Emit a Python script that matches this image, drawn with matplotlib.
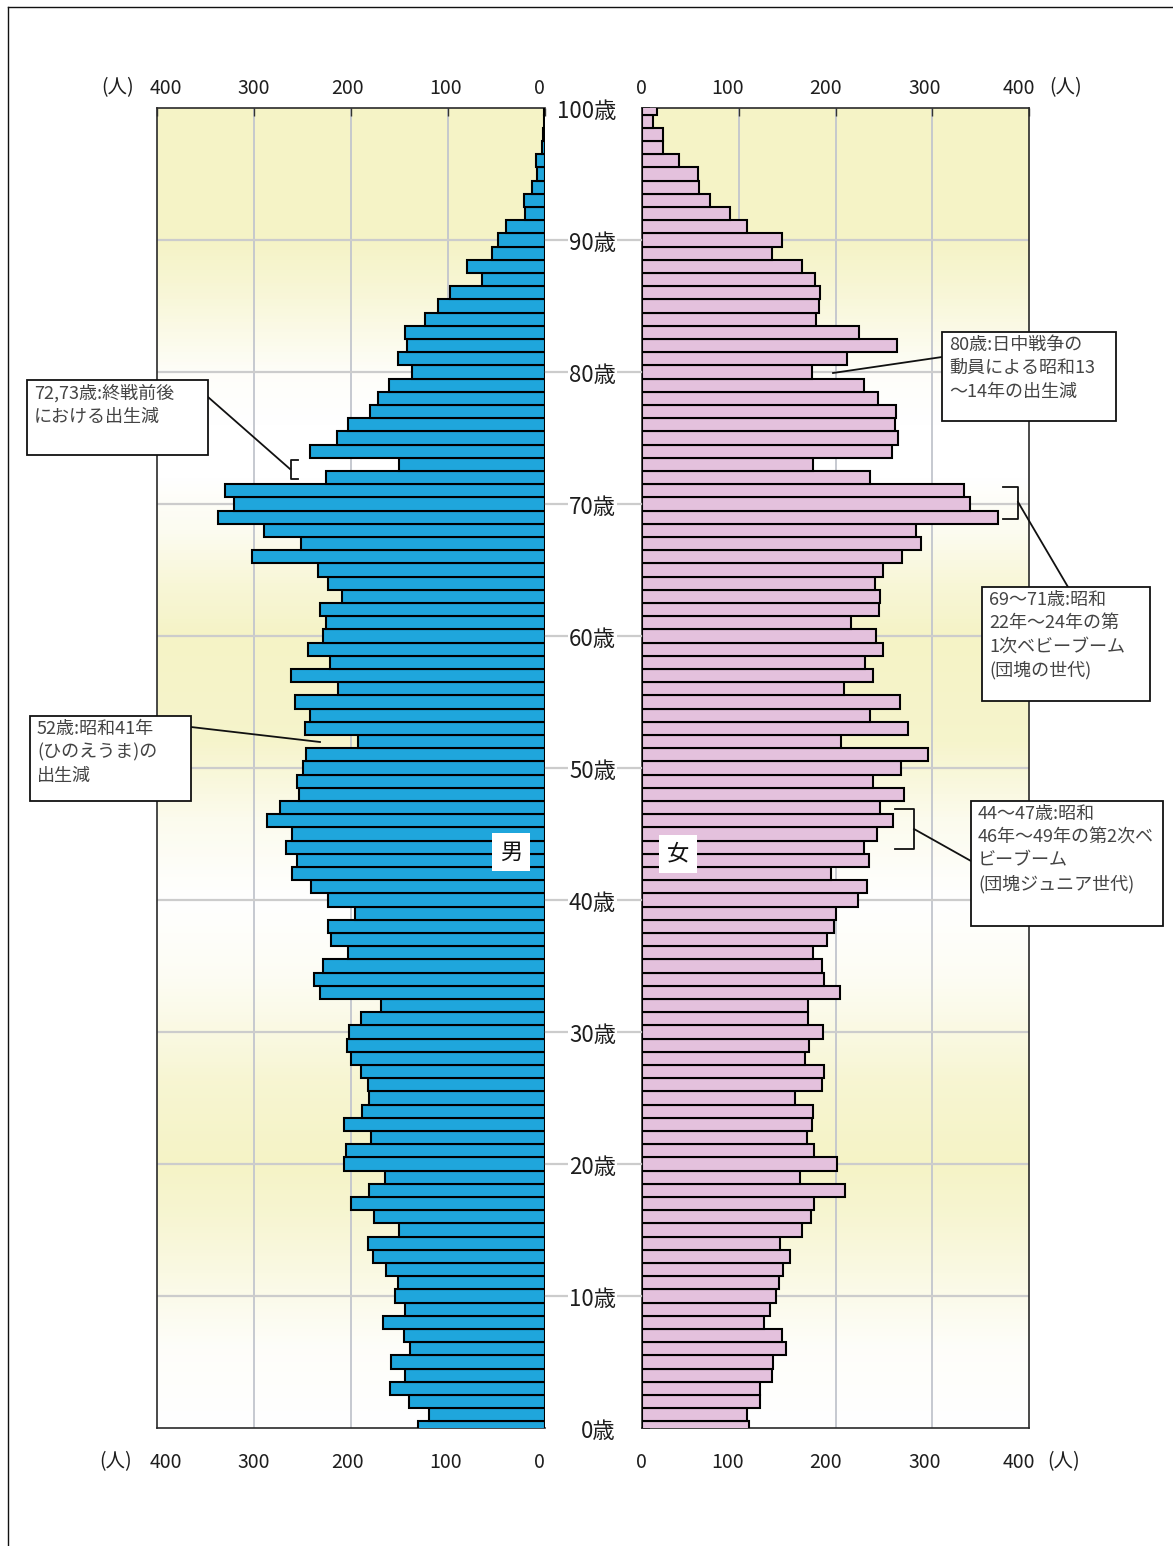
import numpy as np
import matplotlib
matplotlib.use('Agg')
import matplotlib.pyplot as plt
import matplotlib.transforms as mtransforms
from matplotlib.patches import Rectangle
from matplotlib.lines import Line2D
from matplotlib.colors import to_rgb

plt.rcParams['font.family'] = ['Noto Sans CJK JP', 'DejaVu Sans']

# ---------------- data ----------------
ages = list(range(0, 101))
male = [131, 120, 140, 160, 144, 159, 139, 145, 167, 144,
        155, 152, 164, 177, 182, 151, 176, 200, 181, 165,
        207, 205, 179, 207, 189, 181, 182, 190, 200, 204,
        202, 190, 169, 232, 238, 229, 203, 221, 224, 196,
        224, 241, 261, 256, 267, 261, 287, 273, 254, 256,
        249, 246, 193, 247, 242, 258, 213, 262, 222, 244,
        229, 226, 232, 209, 224, 234, 302, 252, 290, 337,
        321, 330, 226, 151, 242, 214, 203, 180, 172, 161,
        137, 152, 142, 144, 124, 110, 98, 65, 80, 55,
        48, 40, 21, 22, 13, 8, 9, 3, 2, 1,
        1]
female = [111, 109, 122, 122, 134, 135, 149, 145, 126, 132,
          138, 142, 146, 153, 143, 165, 175, 178, 210, 163,
          202, 178, 171, 176, 177, 158, 186, 188, 168, 173,
          187, 172, 172, 205, 188, 186, 177, 191, 198, 201,
          223, 233, 195, 235, 229, 243, 259, 246, 271, 239,
          268, 296, 206, 275, 236, 267, 209, 239, 231, 249,
          242, 216, 245, 246, 241, 249, 269, 288, 283, 368,
          339, 333, 236, 177, 258, 265, 262, 263, 244, 229,
          176, 212, 264, 224, 180, 183, 184, 179, 165, 134,
          145, 109, 91, 70, 59, 58, 38, 22, 22, 11,
          15]
x_ticks = [0, 100, 200, 300, 400]
age_ticks = list(range(0, 101, 10))
age_labels = [f"{a}歳" for a in age_ticks]
unit_label = "(人)"
male_label = "男"
female_label = "女"

notes = [
    "72,73歳:終戦前後\nにおける出生減",
    "52歳:昭和41年\n(ひのえうま)の\n出生減",
    "80歳:日中戦争の\n動員による昭和13\n～14年の出生減",
    "69～71歳:昭和\n22年～24年の第\n1次ベビーブーム\n(団塊の世代)",
    "44～47歳:昭和\n46年～49年の第2次ベ\nビーブーム\n(団塊ジュニア世代)",
]

# ---------------- layout helpers ----------------
W, H = 1173, 1546
fig = plt.figure(figsize=(W / 100, H / 100), dpi=100)


def fx(px):
    return px / W


def fy(py):
    return 1 - py / H


def px_offset(dx, dy):
    return mtransforms.ScaledTranslation(dx / 100, -dy / 100, fig.dpi_scale_trans)


AX_TOP, AX_BOT = 108, 1428
ax_l = fig.add_axes([fx(157), fy(AX_BOT), fx(545 - 157), (AX_BOT - AX_TOP) / H])
ax_r = fig.add_axes([fx(642), fy(AX_BOT), fx(1029 - 642), (AX_BOT - AX_TOP) / H])

MALE_C = '#1fa6dc'
FEMALE_C = '#e4c1dd'
YELLOW = np.array(to_rgb('#f5f3c6'))
WHITE = np.array([1.0, 1.0, 1.0])
TXT_C = '#1e1e1e'

# background gradient (style only)
gy = np.linspace(100, 0, 400)
cp_age = [0, 6, 16, 20, 26, 34, 40, 46, 52, 60, 64, 68, 70, 72, 76, 80, 86, 90, 100]
cp_val = [0.0, 0.1, 0.8, 1.0, 0.8, 0.2, 0.0, 0.3, 0.9, 1.0, 0.7, 0.25, 0.15, 0.0, 0.0, 0.1, 0.7, 1.0, 1.0]
inten = np.interp(gy, cp_age, cp_val)
grad = WHITE[None, :] * (1 - inten[:, None]) + YELLOW[None, :] * inten[:, None]
grad = np.repeat(grad[:, None, :], 2, axis=1)

# per-label nudges of the x tick labels (px)
nudge = {ax_l: {400: 9, 300: 0, 200: -3, 100: -2, 0: -6},
         ax_r: {0: -1, 100: -11, 200: -10, 300: -8, 400: -10}}

for ax, vals, col in [(ax_l, male, MALE_C), (ax_r, female, FEMALE_C)]:
    ax.imshow(grad, extent=[0, 1, 0, 1], transform=ax.transAxes, aspect='auto', zorder=0)
    ax.barh(ages, vals, height=1.0, color=col, edgecolor='black', linewidth=1.5, zorder=3)
    ax.set_ylim(0, 100)
    ax.set_xticks(x_ticks)
    for v in x_ticks[1:-1]:
        ax.axvline(v, color='#c2c5cd', lw=1.3, zorder=1)
    for a in age_ticks[1:-1]:
        ax.axhline(a, color='#cccccc', lw=1.6, zorder=1)
    for s in ax.spines.values():
        s.set_color('#2a2a2a')
        s.set_linewidth(1.2)
    ax.tick_params(axis='x', direction='in', length=6, width=1, color='#333333',
                   labelbottom=False, bottom=False, top=True)
    bl = mtransforms.blended_transform_factory(ax.transData, fig.transFigure)
    for v in x_ticks:
        for ypx in (88, 1462):
            ax.text(v, fy(ypx), str(v), transform=bl + px_offset(nudge[ax][v], 0),
                    ha='center', va='center', fontsize=14, color=TXT_C, clip_on=False)

ax_l.set_xlim(400, 0)
ax_r.set_xlim(0, 400)
ax_l.set_yticks([])
ax_l.spines['right'].set_visible(False)
ax_r.set_yticks(age_ticks)
ax_r.tick_params(axis='y', direction='in', length=6, width=1.2, color='black', labelleft=False)

# unit labels
for (px, py) in [(118, 88), (1066, 88), (116, 1462), (1064, 1462)]:
    fig.text(fx(px), fy(py), unit_label, ha='center', va='center', fontsize=14, color=TXT_C)

# gap grid lines and age labels
blend = mtransforms.blended_transform_factory(fig.transFigure, ax_r.transData)
for a, lab in zip(age_ticks, age_labels):
    if 0 < a < 100:
        fig.add_artist(Line2D([fx(546), fx(641)], [a, a], transform=blend, color='#cccccc', lw=1.6, zorder=1))
    fig.text(fx(616), a, lab, transform=blend + px_offset(0, 4), ha='right', va='center',
             fontsize=16, color=TXT_C, zorder=5,
             bbox=dict(boxstyle='square,pad=0.06', fc='white', ec='none'))

# sex labels
for (cx, cy, s) in [(511, 852, male_label), (678, 854, female_label)]:
    fig.add_artist(Rectangle((fx(cx - 19), fy(cy + 19)), fx(38), 38 / H, transform=fig.transFigure,
                             fc='white', ec='none', zorder=5))
    fig.text(fx(cx), fy(cy), s, ha='center', va='center', fontsize=16, color='#111111', zorder=6)

# annotation boxes
boxes = [(27, 380, 208, 455), (30, 716, 191, 801), (942, 332, 1116, 421),
         (982, 587, 1150, 701), (971, 801, 1163, 926)]
for (x0, y0, x1, y1), txt in zip(boxes, notes):
    fig.add_artist(Rectangle((fx(x0), fy(y1)), fx(x1 - x0), (y1 - y0) / H, transform=fig.transFigure,
                             fc='white', ec='#111111', lw=1.3, zorder=7))
    fig.text(fx(x0 + 7), fy(y0 + 4), txt, ha='left', va='top', fontsize=13, color='#444444',
             linespacing=1.38, zorder=8)


def fline(pts, lw=1.3):
    xs = [fx(p[0]) for p in pts]
    ys = [fy(p[1]) for p in pts]
    fig.add_artist(Line2D(xs, ys, transform=fig.transFigure, color='#111111', lw=lw, zorder=6))


fline([(208, 397), (290, 469)])
fline([(298, 460), (291, 460), (291, 479), (298, 479)])
fline([(191, 727), (320, 742)])
fline([(942, 357), (833, 373)])
fline([(1003, 487), (1018, 487), (1018, 519), (1003, 519)])
fline([(1018, 502), (1068, 587)])
fline([(895, 809), (914, 809), (914, 849), (895, 849)])
fline([(914, 829), (971, 861)])

# outer frame
fline([(8, 7), (1173, 7)], lw=1.0)
fline([(8, 7), (8, 1546)], lw=1.0)

fig.savefig('out.png', dpi=100)
